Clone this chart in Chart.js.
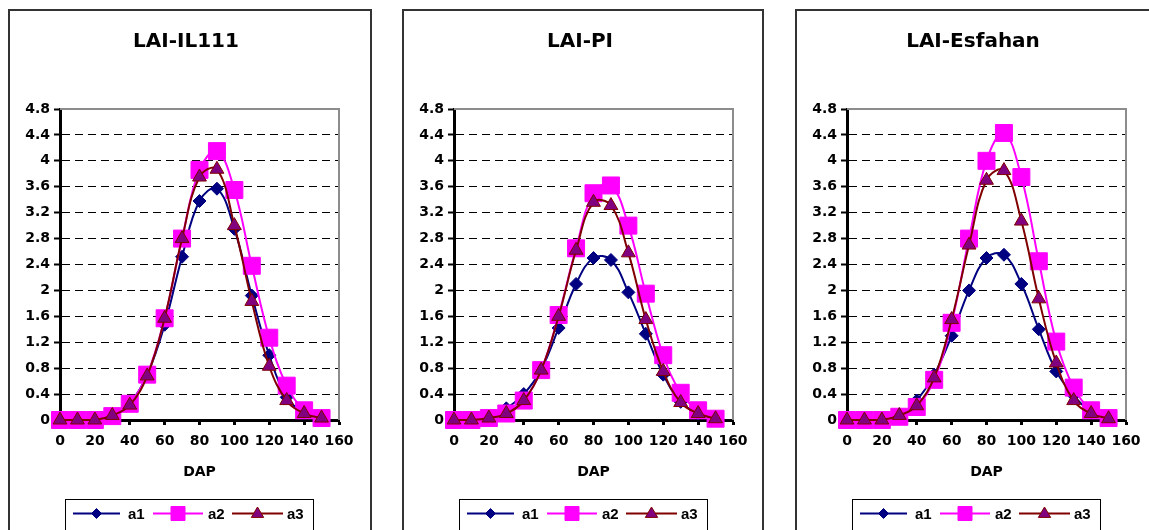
<!DOCTYPE html>
<html><head><meta charset="utf-8">
<script src="https://cdn.jsdelivr.net/npm/chart.js@4.4.0/dist/chart.umd.min.js"></script>
<style>
html,body{margin:0;padding:0;background:#fff;overflow:hidden;width:1149px;height:530px;position:relative;}
.panel{position:absolute;top:9px;height:540px;box-sizing:border-box;border:2px solid #333;background:#fff;}
canvas{position:absolute;top:11px;}
</style></head><body>
<div class="panel" style="left:8px;width:364px"></div>
<div class="panel" style="left:402px;width:362px"></div>
<div class="panel" style="left:795px;width:364px"></div>
<canvas id="c0" width="358" height="519" style="left:10px"></canvas>
<canvas id="c1" width="358" height="519" style="left:404px"></canvas>
<canvas id="c2" width="358" height="519" style="left:797px"></canvas>
<script>
const days = [0,10,20,30,40,50,60,70,80,90,100,110,120,130,140,150];
const titles = ['LAI-IL111','LAI-PI','LAI-Esfahan'];
const seriesNames = ['a1','a2','a3'];
const xAxisTitle = 'DAP';
const xRange = [0,160,20];
const yRange = [0,4.8,0.4];

const il111_a1 = [0,0,0,0.05,0.25,0.7,1.47,2.52,3.38,3.57,2.95,1.92,1.0,0.35,0.12,0.02];
const il111_a2 = [0,0,0,0.06,0.25,0.7,1.57,2.8,3.86,4.15,3.55,2.38,1.27,0.53,0.15,0.03];
const il111_a3 = [0,0,0,0.07,0.23,0.68,1.57,2.8,3.75,3.87,3.0,1.83,0.83,0.3,0.1,0.03];

const pi_a1 = [0,0,0.03,0.18,0.4,0.78,1.42,2.1,2.5,2.47,1.97,1.33,0.7,0.28,0.1,0.02];
const pi_a2 = [0,0,0.03,0.1,0.3,0.77,1.62,2.65,3.5,3.62,3.0,1.95,1.0,0.42,0.15,0.02];
const pi_a3 = [0,0,0.03,0.1,0.3,0.77,1.6,2.62,3.36,3.31,2.58,1.55,0.75,0.27,0.1,0.02];

const esf_a1 = [0,0,0,0.05,0.3,0.7,1.3,2.0,2.5,2.55,2.1,1.4,0.75,0.38,0.12,0.02];
const esf_a2 = [0,0,0,0.05,0.2,0.62,1.5,2.8,4.0,4.43,3.75,2.45,1.21,0.5,0.15,0.03];
const esf_a3 = [0,0,0,0.07,0.22,0.65,1.55,2.7,3.7,3.85,3.07,1.87,0.88,0.3,0.1,0.02];

const panels = [
  [il111_a1, il111_a2, il111_a3],
  [pi_a1, pi_a2, pi_a3],
  [esf_a1, esf_a2, esf_a3]
];

const styles = [
  {line:'#000080', fill:'#000080', border:'#000080', shape:'rectRot', r:6.5, order:3},
  {line:'#FF00FF', fill:'#FF00FF', border:'#FF00FF', shape:'rect', r:12, order:2},
  {line:'#800000', fill:'#800080', border:'#800000', shape:'triangle', r:8, order:1}
];

function drawMarker(ctx, shape, x, y, size, fill, stroke){
  ctx.save();
  ctx.fillStyle = fill; ctx.strokeStyle = stroke; ctx.lineWidth = 1;
  ctx.beginPath();
  if (shape === 'rectRot') {
    ctx.moveTo(x - size, y); ctx.lineTo(x, y - size); ctx.lineTo(x + size, y); ctx.lineTo(x, y + size); ctx.closePath();
  } else if (shape === 'rect') {
    ctx.rect(x - size, y - size, size*2, size*2);
  } else {
    ctx.moveTo(x, y - size); ctx.lineTo(x + size*0.95, y + size*0.6); ctx.lineTo(x - size*0.95, y + size*0.6); ctx.closePath();
  }
  ctx.fill(); ctx.stroke();
  ctx.restore();
}

function makeChart(id, idx){
  const ctx = document.getElementById(id).getContext('2d');
  const frame = {
    id:'frame',
    beforeDatasetsDraw(chart){
      const a = chart.chartArea, c = chart.ctx;
      c.save();
      c.strokeStyle = '#8c8c8c'; c.lineWidth = 2;
      c.beginPath();
      c.moveTo(a.left, a.top); c.lineTo(a.right, a.top); c.lineTo(a.right, a.bottom);
      c.stroke();
      c.restore();
    },
    afterDraw(chart){
      const c = chart.ctx;
      c.save();
      c.fillStyle = '#000';
      c.font = 'bold 20px "DejaVu Sans"';
      c.textAlign = 'center'; c.textBaseline = 'alphabetic';
      c.fillText(titles[idx], 176, 36);
      const lx = 55, ly = 488, lw = 248, lh = 31;
      c.strokeStyle = '#000'; c.lineWidth = 1;
      c.strokeRect(lx + 0.5, ly + 0.5, lw, lh);
      const cy = ly + 14.5;
      const items = [[63,110,118],[143,193,198],[222,273,277]];
      c.font = 'bold 15px "Liberation Sans", Arial';
      c.textAlign = 'left'; c.textBaseline = 'middle';
      items.forEach((it, k) => {
        const s = styles[k];
        c.strokeStyle = s.line; c.lineWidth = 2;
        c.beginPath(); c.moveTo(it[0], cy); c.lineTo(it[1], cy); c.stroke();
        const mx = (it[0] + it[1]) / 2;
        const sz = k === 0 ? 5 : (k === 1 ? 7 : 6.5);
        drawMarker(c, s.shape, mx, cy, sz, s.fill, s.border);
        c.fillStyle = '#000';
        c.fillText(seriesNames[k], it[2], cy + 1);
      });
      c.restore();
    }
  };
  return new Chart(ctx, {
    type:'line',
    data:{
      datasets: panels[idx].map((vals, k) => ({
        label: seriesNames[k],
        data: days.map((d, i) => ({x:d, y:vals[i]})),
        borderColor: styles[k].line,
        backgroundColor: styles[k].fill,
        borderWidth: 2,
        pointStyle: styles[k].shape,
        pointRadius: styles[k].r,
        pointHoverRadius: styles[k].r,
        pointBackgroundColor: styles[k].fill,
        pointBorderColor: styles[k].border,
        pointBorderWidth: 1,
        tension: 0.4,
        fill: false,
        clip: false,
        order: styles[k].order
      }))
    },
    options:{
      responsive:false,
      animation:false,
      devicePixelRatio:1,
      layout:{padding:{left:0, right:29, top:98, bottom:49}},
      plugins:{legend:{display:false}, title:{display:false}, tooltip:{enabled:false}},
      scales:{
        x:{
          type:'linear', min:xRange[0], max:xRange[1],
          afterFit(s){ s.height = 61; },
          ticks:{stepSize:xRange[2], color:'#000', font:{family:'"DejaVu Sans"', size:14, weight:'bold'}, padding:8, maxRotation:0, autoSkip:false},
          grid:{drawOnChartArea:false, drawTicks:true, tickLength:5, tickWidth:3, tickColor:'#000', color:'#000'},
          border:{display:true, color:'#000', width:3},
          title:{display:true, text:xAxisTitle, color:'#000', font:{family:'"DejaVu Sans"', size:14, weight:'bold'}, padding:0}
        },
        y:{
          type:'linear', min:yRange[0], max:yRange[1],
          afterFit(s){ s.width = 50; },
          ticks:{stepSize:yRange[2], color:'#000', font:{family:'"DejaVu Sans"', size:14, weight:'bold'}, padding:4,
            callback:(v)=>String(Number(v.toFixed(1)))},
          grid:{
            color:(c)=>{ const v = c.tick ? c.tick.value : 0; return (v <= 0.001 || v >= 4.79) ? 'rgba(0,0,0,0)' : '#000'; },
            lineWidth:1, drawTicks:true, tickLength:6, tickWidth:2, tickColor:'#000', tickBorderDash:[]
          },
          border:{display:true, color:'#000', width:3, dash:[8,5]}
        }
      }
    },
    plugins:[frame]
  });
}
makeChart('c0',0);
makeChart('c1',1);
makeChart('c2',2);
</script>
</body></html>
